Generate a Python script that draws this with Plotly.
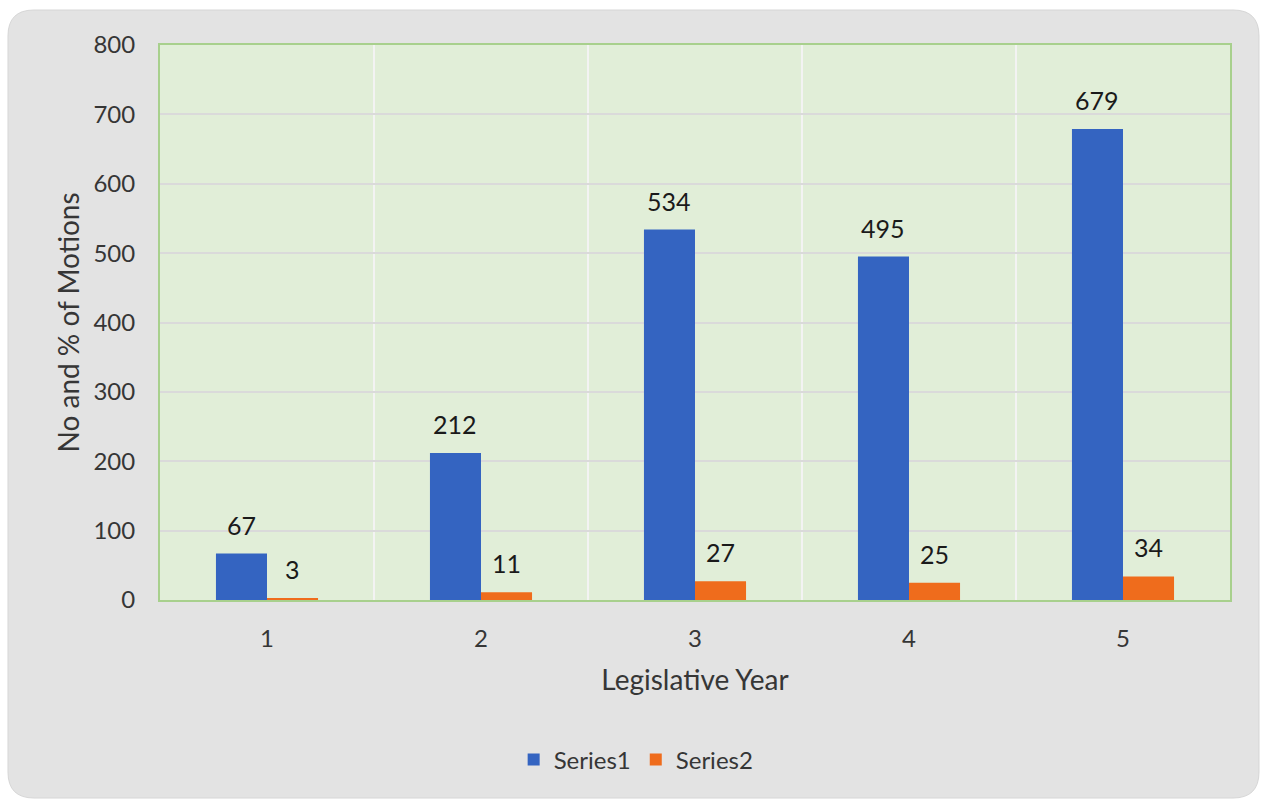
import plotly.graph_objects as go

# Motions per legislative year
years = ["1", "2", "3", "4", "5"]
series1 = [67, 212, 534, 495, 679]
series2 = [3, 11, 27, 25, 34]
y_ticks = [0, 100, 200, 300, 400, 500, 600, 700, 800]

BLUE = "#3464c1"
ORANGE = "#ef6c1c"
GREEN_BG = "#e1eed8"
FONT = "Lato"
TXT = "#363636"

W, H = 1263, 799
L, R, T, B = 160, 33, 45, 199
BARGAP = 0.523

fig = go.Figure()
fig.add_trace(go.Bar(x=years, y=series1, name="Series1", marker=dict(color=BLUE, line=dict(width=0))))
fig.add_trace(go.Bar(x=years, y=series2, name="Series2", marker=dict(color=ORANGE, line=dict(width=0))))

# value labels above each bar (x given as category index)
plot_w = W - L - R
cat_px = plot_w / len(years)
bar_px = cat_px * (1 - BARGAP) / 2
for vals, side in ((series1, -1), (series2, 1)):
    for i, v in enumerate(vals):
        fig.add_annotation(x=i, y=v, text=str(v), showarrow=False,
                           xshift=side * bar_px / 2, yshift=29, yanchor="middle",
                           font=dict(family=FONT, size=25, color="#1a1a1a"))


def P(px, py):
    a = (px - L) / plot_w
    b = (H - B - py) / (H - T - B)
    return f"{a:.5f},{b:.5f}"


# rounded card behind the chart
x0, y0, x1, y1, r = 8, 10, 1259, 798, 26
path = " ".join([
    "M " + P(x0 + r, y0),
    "L " + P(x1 - r, y0),
    "Q " + P(x1, y0) + " " + P(x1, y0 + r),
    "L " + P(x1, y1 - r),
    "Q " + P(x1, y1) + " " + P(x1 - r, y1),
    "L " + P(x0 + r, y1),
    "Q " + P(x0, y1) + " " + P(x0, y1 - r),
    "L " + P(x0, y0 + r),
    "Q " + P(x0, y0) + " " + P(x0 + r, y0),
    "Z",
])
fig.add_shape(type="path", xref="paper", yref="paper", path=path,
              fillcolor="#e3e3e3", line=dict(color="#d6d6d6", width=1), layer="below")
# green plotting area
fig.add_shape(type="rect", xref="paper", yref="paper", x0=0, y0=0, x1=1, y1=1,
              fillcolor=GREEN_BG, line=dict(width=0), layer="below")

fig.update_layout(
    width=W, height=H,
    margin=dict(l=L, r=R, t=T, b=B, pad=0),
    paper_bgcolor="white",
    plot_bgcolor="rgba(0,0,0,0)",
    barmode="group", bargap=BARGAP, bargroupgap=0,
    font=dict(family=FONT, color=TXT),
    showlegend=True,
    legend=dict(orientation="h", x=0.445, xanchor="center", y=-0.288, yanchor="middle",
                font=dict(family=FONT, size=24, color=TXT),
                bgcolor="rgba(0,0,0,0)", traceorder="normal"),
    xaxis=dict(
        type="category", tickson="boundaries", showgrid=True, gridcolor="#f3f3f3", gridwidth=2,
        ticks="", ticklabelstandoff=16,
        tickfont=dict(family=FONT, size=24, color=TXT),
        showline=True, linecolor="#a8d08d", linewidth=2, mirror=True,
        title=dict(text="Legislative Year", font=dict(family=FONT, size=28, color=TXT), standoff=20),
    ),
    yaxis=dict(
        range=[0, 800], tickvals=y_ticks, showgrid=True, gridcolor="#dadada", gridwidth=2,
        zeroline=False, ticks="", ticklabelstandoff=18,
        tickfont=dict(family=FONT, size=24, color=TXT),
        showline=True, linecolor="#a8d08d", linewidth=2, mirror=True,
        title=dict(text="No and % of Motions", font=dict(family=FONT, size=28, color=TXT), standoff=6),
    ),
)

fig.write_html("out.html")
